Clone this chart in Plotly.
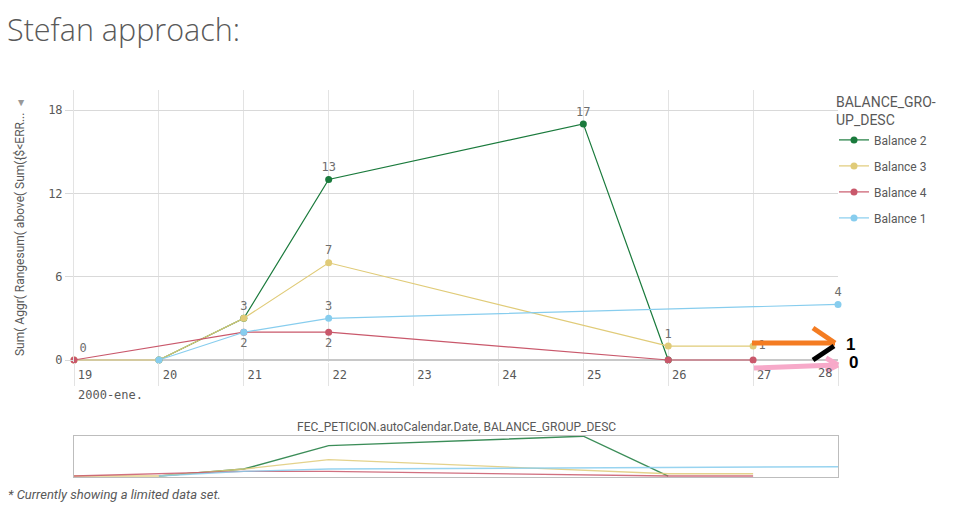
import plotly.graph_objects as go

# ---- data ----
series_names = ["Balance 2", "Balance 3", "Balance 4", "Balance 1"]
colors = ["#1a7a3c", "#e0cb78", "#c9586b", "#87cdee"]

b2_days = [20, 21, 22, 25, 26]
b2_vals = [0, 3, 13, 17, 0]
b2_text = ["", "", "13", "17", ""]
b2_pos = ["top center"] * 5

b3_days = [19, 20, 21, 22, 26, 27]
b3_vals = [0, 0, 3, 7, 1, 1]
b3_text = ["", "", "3", "7", "1", "1"]
b3_pos = ["top center", "top center", "top center", "top center", "top center", "middle right"]

b4_days = [19, 21, 22, 26, 27]
b4_vals = [0, 2, 2, 0, 0]
b4_text = ["0", "2", "2", "", ""]
b4_pos = ["top right", "bottom center", "bottom center", "top center", "top center"]

b1_days = [20, 21, 22, 28]
b1_vals = [0, 2, 3, 4]
b1_text = ["", "", "3", "4"]
b1_pos = ["top center"] * 4

x_ticks = [19, 20, 21, 22, 23, 24, 25, 26, 27, 28]
x_ticktext = ["19", "20", "21", "22", "23", "24", "25", "26", "27", ""]
last_tick_label = "28"
y_ticks = [0, 6, 12, 18]

# page has an 8px body margin: figure is drawn 8px right/down
OFF = 8
W, H = 958, 517
L, R, T, B = 74, 838, 90, 477


def px(x):
    return (x - L) / (R - L)


def py(y):
    return (B - y) / (B - T)


GRAY = "#595959"
MONO = "DejaVu Sans Mono"

fig = go.Figure()
data = [
    (b2_days, b2_vals, b2_text, b2_pos),
    (b3_days, b3_vals, b3_text, b3_pos),
    (b4_days, b4_vals, b4_text, b4_pos),
    (b1_days, b1_vals, b1_text, b1_pos),
]
for name, col, (xs, ys, tx, tp) in zip(series_names, colors, data):
    fig.add_trace(go.Scatter(
        x=xs, y=ys, name=name, mode="lines+markers+text",
        text=tx, textposition=tp,
        textfont=dict(family=MONO, size=12, color="#6e6e6e"),
        line=dict(color=col, width=1.2), marker=dict(color=col, size=7),
        cliponaxis=False, xaxis="x", yaxis="y", legendgroup=name,
    ))
for name, col, (xs, ys, tx, tp) in zip(series_names, colors, data):
    fig.add_trace(go.Scatter(
        x=xs, y=ys, name=name, mode="lines", showlegend=False,
        line=dict(color=col, width=1.4), opacity=0.85,
        xaxis="x2", yaxis="y2", hoverinfo="skip",
    ))

annotations = [
    dict(text="Stefan approach:", x=px(6), y=py(29), xref="paper", yref="paper",
         xanchor="left", yanchor="middle", showarrow=False, borderpad=0,
         font=dict(family="Open Sans", size=30.5, color=GRAY, weight=300)),
    dict(text="Sum( Aggr( Rangesum( above( Sum({$<ERR...", x=px(20), y=py(235),
         xref="paper", yref="paper", textangle=-90, showarrow=False,
         xanchor="center", yanchor="middle",
         font=dict(family="Roboto", size=12, color=GRAY)),
    dict(text="▶", x=px(15), y=py(98), xref="paper", yref="paper", textangle=90,
         showarrow=False, font=dict(size=8, color="#999999")),
    dict(text="2000-ene.", x=px(76), y=py(395), xref="paper", yref="paper",
         xanchor="left", yanchor="middle", showarrow=False,
         font=dict(family=MONO, size=12, color=GRAY)),
    dict(text=last_tick_label, x=x_ticks[-1], y=py(373), xref="x", yref="paper",
         xanchor="right", yanchor="middle", xshift=-4, showarrow=False,
         font=dict(family=MONO, size=12, color=GRAY)),
    dict(text="FEC_PETICION.autoCalendar.Date, BALANCE_GROUP_DESC", x=px(456), y=py(427),
         xref="paper", yref="paper", xanchor="center", yanchor="middle", showarrow=False,
         font=dict(family="Roboto", size=12, color=GRAY)),
    dict(text="<i>* Currently showing a limited data set.</i>", x=px(6), y=py(494),
         xref="paper", yref="paper", xanchor="left", yanchor="middle", showarrow=False,
         font=dict(family="Roboto", size=13, color=GRAY)),
    dict(text="<b>1</b>", x=px(851), y=py(344), xref="paper", yref="paper",
         xanchor="center", yanchor="middle", showarrow=False,
         font=dict(family="Liberation Sans", size=17, color="#000000")),
    dict(text="<b>0</b>", x=px(853), y=py(363), xref="paper", yref="paper",
         xanchor="center", yanchor="middle", showarrow=False,
         font=dict(family="Liberation Sans", size=17, color="#000000")),
]


def seg(x0, y0, x1, y1, color, width=5):
    return dict(type="line", xref="paper", yref="paper",
                x0=px(x0), y0=py(y0), x1=px(x1), y1=py(y1),
                line=dict(color=color, width=width), layer="above")


ORANGE = "#f47c22"
PINK = "#f7a9c9"
shapes = [
    seg(752, 343, 835, 343, ORANGE),
    seg(813, 328, 835, 343, ORANGE),
    seg(813, 360, 834, 346, "#000000"),
    seg(754, 368, 836, 365, PINK),
    seg(826, 358, 838, 365, PINK),
    seg(826, 371, 838, 365, PINK),
]

fig.update_layout(
    width=W - OFF, height=H - OFF,
    margin=dict(l=L - OFF, r=W - R, t=T - OFF, b=H - B),
    paper_bgcolor="white", plot_bgcolor="white",
    showlegend=True,
    legend=dict(
        x=px(834), y=py(89), xanchor="left", yanchor="top",
        title=dict(text="BALANCE_GRO-<br>UP_DESC",
                   font=dict(family="Roboto", size=14, color=GRAY)),
        font=dict(family="Roboto", size=12, color=GRAY),
        tracegroupgap=7, bgcolor="rgba(0,0,0,0)",
    ),
    xaxis=dict(
        domain=[0, 1], range=[19, 28], tickvals=x_ticks, ticktext=x_ticktext,
        showgrid=True, gridcolor="#e3e3e3", gridwidth=1,
        zeroline=False, showline=False,
        ticks="outside", ticklen=23, tickcolor="#e3e3e3", tickwidth=1,
        ticklabelshift=11, ticklabelstandoff=-21,
        tickfont=dict(family=MONO, size=12, color=GRAY),
    ),
    yaxis=dict(
        domain=[py(362), 1], range=[-0.144, 19.44], tickvals=y_ticks,
        showgrid=True, gridcolor="#d9d9d9", zeroline=True, zerolinecolor="#c8c8c8",
        showline=True, linecolor="#e3e3e3",
        ticks="outside", ticklen=8, tickcolor="#d9d9d9",
        tickfont=dict(family=MONO, size=12, color=GRAY),
    ),
    xaxis2=dict(
        domain=[0, 1], range=[19, 28], anchor="y2", showgrid=False, zeroline=False,
        showticklabels=False, showline=True, mirror=True, linecolor="#bdbdbd",
    ),
    yaxis2=dict(
        domain=[0, py(436)], range=[-0.4, 17.1], anchor="x2", showgrid=False,
        zeroline=False, showticklabels=False, showline=True, mirror=True,
        linecolor="#bdbdbd",
    ),
    annotations=annotations,
    shapes=shapes,
)

fig.write_html("out.html")
